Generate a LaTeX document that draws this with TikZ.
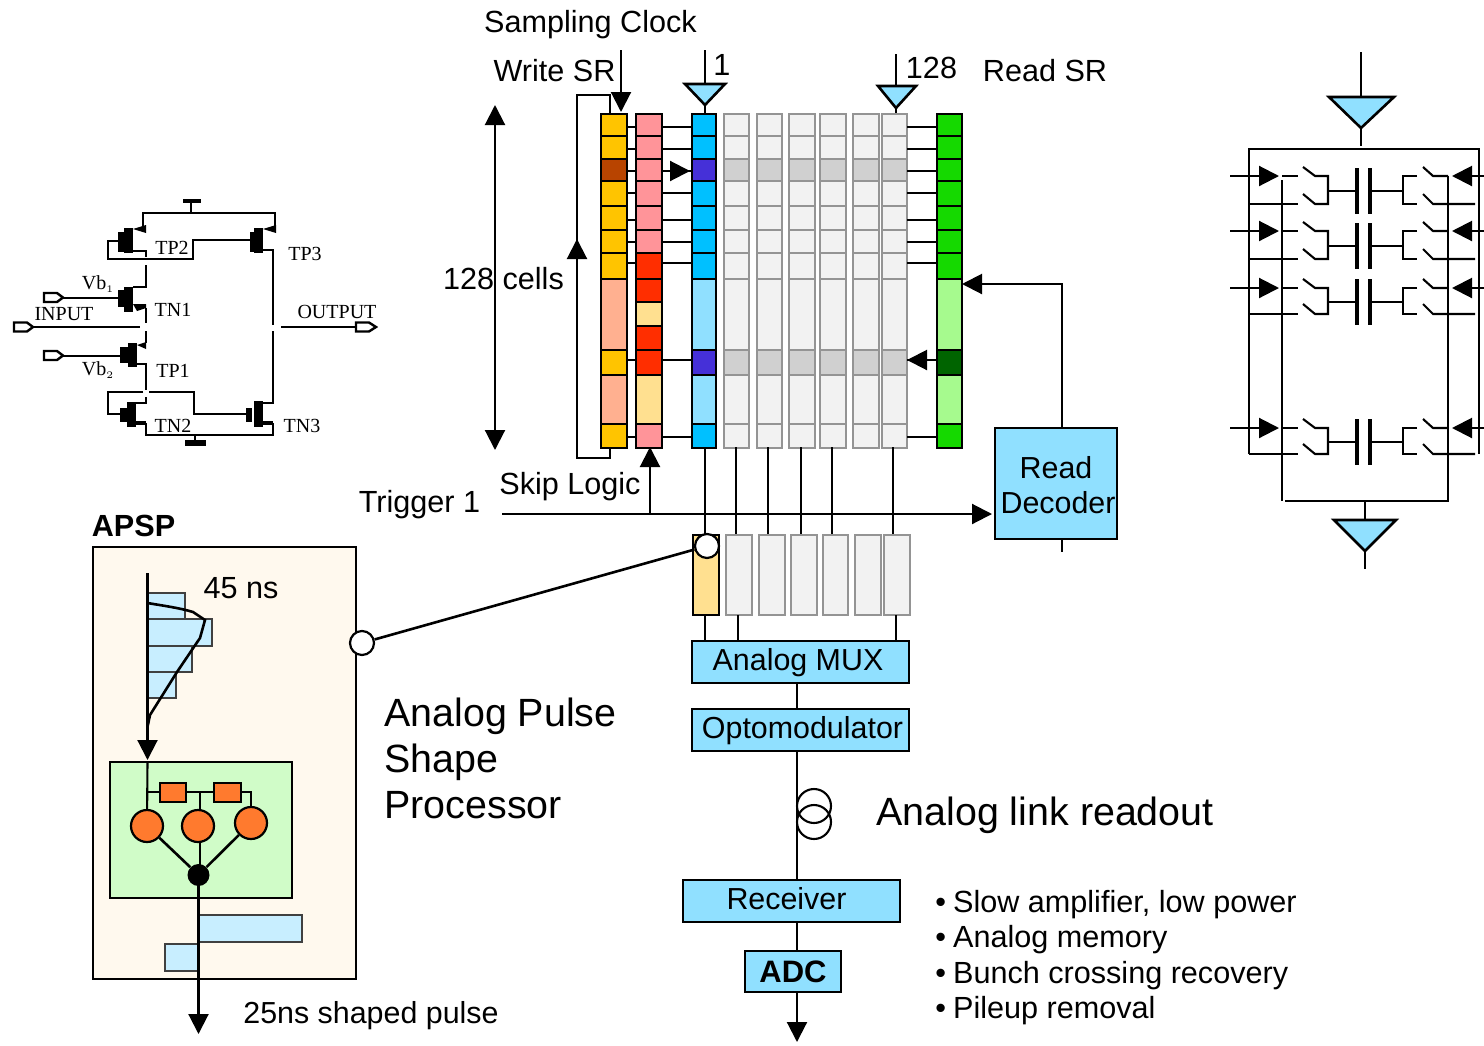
\documentclass[tikz,border=0pt]{standalone}
\usepackage{fontspec}
\setmainfont{Liberation Sans}
\newfontfamily\cmosfont{Liberation Serif}
\usetikzlibrary{arrows.meta}

\definecolor{sky}{HTML}{90E0FF}
\definecolor{cellblue}{HTML}{00C0FF}
\definecolor{cellviolet}{HTML}{4530D8}
\definecolor{cellgold}{HTML}{FFC400}
\definecolor{cellrust}{HTML}{B84400}
\definecolor{cellsalmon}{HTML}{FFB090}
\definecolor{cellpink}{HTML}{FF9499}
\definecolor{cellred}{HTML}{FF2E00}
\definecolor{cellcream}{HTML}{FFE090}
\definecolor{cellgreen}{HTML}{15D900}
\definecolor{celllime}{HTML}{A6FA8E}
\definecolor{celldark}{HTML}{006400}
\definecolor{cellpale}{HTML}{F2F2F2}
\definecolor{cellgrey}{HTML}{D0D0D0}
\definecolor{barblue}{HTML}{C8EEFF}
\definecolor{apspfill}{HTML}{FFF9EE}
\definecolor{netfill}{HTML}{D0FCC8}
\definecolor{neuron}{HTML}{FF7A2E}

\begin{document}
\begin{tikzpicture}[
  x=0.5pt, y=-0.5pt,
  line cap=butt, line join=miter,
  wire/.style={draw=black, line width=1.3pt},
  thin wire/.style={draw=black, line width=1.05pt},
  bigtip/.style={-{Triangle[length=10pt,width=10pt]}},
  cell/.style={draw=black, line width=1.15pt},
  palecell/.style={draw=black!42, line width=1.25pt},
  block/.style={draw=black, line width=1.3pt, fill=sky, inner sep=0pt, font=\fontsize{15.2}{18}\selectfont},
  chainblock/.style={block, minimum width=108.5pt, minimum height=21pt, text height=11pt, text depth=2.5pt},
  amp/.style={draw=black, line width=1.3pt, fill=sky},
  label/.style={font=\fontsize{15.3}{18}\selectfont, inner sep=0pt},
  biglabel/.style={font=\fontsize{19.7}{23}\selectfont, inner sep=0pt, anchor=base west},
  cmos/.style={font=\cmosfont\fontsize{10}{12}\selectfont, inner sep=0pt},
  pad/.style={draw=black, line width=1.2pt, fill=white},
  hub/.style={circle, draw=black, line width=1.1pt, fill=white, minimum size=12pt, inner sep=0pt},
  soma/.style={circle, draw=black, line width=1.1pt, fill=neuron, minimum size=16pt, inner sep=0pt},
  bar/.style={draw=black!75, line width=1pt, fill=barblue},
]
\useasboundingbox (0,0) rectangle (1484,1045);

\begin{scope}[yshift=-0.5pt]
% shift register and skip columns
\foreach \a/\b/\c in {113/135/cellgold,135/158/cellgold,158/180/cellrust,180/205/cellgold,205/229/cellgold,229/252/cellgold,252/278/cellgold,278/349/cellsalmon,349/374/cellgold,374/423/cellsalmon,423/447/cellgold}
  \draw[cell, fill=\c] (601,\a) rectangle (627,\b);
\foreach \a/\b/\c in {113/135/cellpink,135/158/cellpink,158/180/cellpink,180/205/cellpink,205/229/cellpink,229/252/cellpink,252/278/cellred,278/301/cellred,301/325/cellcream,325/349/cellred,349/374/cellred,374/423/cellcream,423/447/cellpink}
  \draw[cell, fill=\c] (636,\a) rectangle (662,\b);
\foreach \a/\b/\c in {113/135/cellblue,135/158/cellblue,158/180/cellviolet,180/205/cellblue,205/229/cellblue,229/252/cellblue,252/278/cellblue,278/349/sky,349/374/cellviolet,374/423/sky,423/447/cellblue}
  \draw[cell, fill=\c] (692,\a) rectangle (716,\b);
\foreach \a/\b/\c in {113/135/cellgreen,135/158/cellgreen,158/180/cellgreen,180/205/cellgreen,205/229/cellgreen,229/252/cellgreen,252/278/cellgreen,278/349/celllime,349/374/celldark,374/423/celllime,423/447/cellgreen}
  \draw[cell, fill=\c] (937,\a) rectangle (962,\b);

% memory columns
\foreach \l/\r in {724/749,757/782,789/815,820/846,853/879,882/907}{
  \foreach \a/\b/\c in {113/135/cellpale,135/158/cellpale,158/180/cellgrey,180/205/cellpale,205/229/cellpale,229/252/cellpale,252/278/cellpale,278/349/cellpale,349/374/cellgrey,374/423/cellpale,423/447/cellpale}
    \draw[palecell, fill=\c] (\l,\a) rectangle (\r,\b);
}
\end{scope}
\foreach \y in {127,149,171,193,220,242,263,360,437}{
  \draw[thin wire] (627,\y) -- (636,\y);
  \draw[thin wire] (662,\y) -- (692,\y);
  \draw[thin wire] (907,\y) -- (937,\y);
}

% amplifiers and control lines
\draw[thin wire] (705,50) -- (705,84);
\draw[amp] (685,84) -- (725,84) -- (705,105) -- cycle;
\draw[thin wire] (705,105) -- (705,113);
\draw[thin wire] (896,54) -- (896,86);
\draw[amp] (878,86) -- (916,86) -- (896,108) -- cycle;
\draw[thin wire] (896,108) -- (896,113);
\draw[thin wire, bigtip] (621,50) -- (621,112);
\draw[thin wire] (610,113) -- (610,95) -- (577,95) -- (577,458) -- (610,458) -- (610,448);
\draw[thin wire, bigtip] (577,270) -- (577,239);
\draw[thin wire, bigtip] (670,171) -- (690,171);
\draw[thin wire, bigtip] (937,360) -- (907,360);
\draw[thin wire, {Triangle[length=10pt,width=10pt]}-{Triangle[length=10pt,width=10pt]}] (495,105) -- (495,450);
\draw[thin wire, bigtip] (650,514) -- (650,447);
\draw[thin wire, bigtip] (502,514) -- (992,514);

\node[label] (sampling) at (590.5,25) {Sampling Clock};
\node[label] (writesr) at (554.5,71) {Write SR};
\node[label] (first) at (722,65) {1};
\node[label] (last) at (931.5,68) {128};
\node[label] (readsr) at (1045,71) {Read SR};
\node[label] (cells) at (503.5,279) {128 cells};
\node[label] (skip) at (570,487) {Skip Logic};
\node[label] (trigger) at (419.5,505) {Trigger 1};

% read decoder
\node[block, minimum width=61pt, minimum height=55.5pt, align=center] (decoder) at (1056,483.5) {\rule{0pt}{12.5pt}Read\\[-0.5pt]\hspace*{2pt}Decoder};
\coordinate (readin) at (962,284);
\draw[thin wire, bigtip] ([xshift=3pt]decoder.north) |- (readin);
\coordinate (decoderout) at (1062,552);
\draw[thin wire] ([xshift=3pt]decoder.south) -- (decoderout);

% output cells
\foreach \x in {705,736,768,801,832,893}
  \draw[thin wire] (\x,447) -- (\x,535);
\draw[cell, fill=cellcream] (693,535) rectangle (719,615);
\foreach \l/\r in {726/752,759/785,791/817,823/848,855/881,884/910}
  \draw[palecell, fill=cellpale] (\l,535) rectangle (\r,615);

% readout chain
\node[chainblock] (mux) at (800.5,662) {Analog MUX\hspace*{2.5pt}};
\node[chainblock] (opto) at (800.5,730) {\hspace*{2pt}Optomodulator};
\node[chainblock] (receiver) at (791.5,901) {Receiver\hspace*{5pt}};
\node[block, minimum width=48pt, minimum height=20.5pt, font=\fontsize{15.5}{18}\selectfont\bfseries] (adc) at (793,971.5) {ADC};
\foreach \x in {705,738,896}
  \draw[thin wire] (\x,615) -- (\x,641);
\coordinate (adcout) at (797,1042);
\draw[thin wire] ([xshift=-1.75pt]mux.south) -- ([xshift=-1.75pt]opto.north);
\draw[thin wire] ([xshift=-1.75pt]opto.south) -- ([xshift=2.75pt]receiver.north);
\draw[thin wire] ([xshift=2.75pt]receiver.south) -- ([xshift=2pt]adc.north);
\draw[thin wire, bigtip] ([xshift=2pt]adc.south) -- (adcout);
\draw[thin wire] (814,806) circle (17);
\draw[thin wire] (814,822) circle (17);
\node[biglabel] (linkreadout) at (876,825) {Analog link readout};
\foreach \y/\t in {905/{Slow amplifier, low power},940/{Analog memory},976/{Bunch crossing recovery},1011/{Pileup removal}}
  \node[label, anchor=west] at (935,\y) {\textbullet\hspace{3.5pt}\t};

% APSP
\node[label, font=\fontsize{15.3}{18}\selectfont\bfseries] (apsptitle) at (133.5,526) {APSP};
\draw[wire, fill=apspfill] (93,547) rectangle (356,979);
\node[hub] (apspin) at (362,643) {};
\node[hub] (celltap) at (707,546) {};
\draw[wire] (apspin) -- (celltap);
\node[label] (shaping) at (241,588) {45 ns};
\node[biglabel] (apsp1) at (384,726) {Analog Pulse};
\node[biglabel] (apsp2) at (384,772) {Shape};
\node[biglabel] (apsp3) at (384,818) {Processor};
\draw[bar] (147,593) rectangle (185,619);
\draw[bar] (147,619) rectangle (212,646);
\draw[bar] (147,646) rectangle (192,672);
\draw[bar] (147,672) rectangle (176,698);
\draw[thin wire, bigtip] (147.5,573) -- (147.5,760);
\draw[wire] (147.5,603) .. controls (165,606) and (180,608) .. (193,612) -- (205,620) -- (200,638) -- (177,672) -- (150,715) -- (147.5,727);
\draw[wire, fill=netfill] (110,762) rectangle (292,898);
\node[soma] (soma1) at (147,826) {};
\node[soma] (soma2) at (198,826) {};
\node[soma] (soma3) at (251,823) {};
\node[circle, fill=black, minimum size=11pt, inner sep=0pt] (sum) at (198.5,875) {};
\draw[thin wire] (147.5,762) -- (soma1);
\draw[thin wire] (147.5,792) -- (251,792) -- (soma3);
\draw[thin wire] (200,792) -- (200,810);
\draw[wire] (soma1) -- (sum);
\draw[thin wire] (200,842) -- (200,870);
\draw[wire] (soma3) -- (sum);
\draw[thin wire, fill=neuron] (160,783) rectangle (186,802);
\draw[thin wire, fill=neuron] (214,783) rectangle (241,802);
\draw[bar] (198,915) rectangle (302,942);
\draw[bar] (165,944) rectangle (198,971);
\coordinate (apspout) at (198.5,1034);
\draw[thin wire, bigtip] (sum) -- (apspout);
\node[label, anchor=west, font=\fontsize{15.2}{18}\selectfont] (shaped) at (243,1016) {25ns shaped pulse};

% current mode amplifier
\begin{scope}[line width=1.3pt]
\draw (143,228) -- (143,213) -- (275,213) -- (275,228);
\draw (191,213) -- (191,201);
\fill (183,198.5) rectangle (201,202.5);
\draw (133,251) -- (146,251) -- (146,257);
\draw (120,241) -- (108,241) -- (108,259) -- (193,259) -- (193,240) -- (250,240);
\fill (118,232) rectangle (124,252);
\fill (124,228) rectangle (133,253);
\fill (133,229) -- (146,225) -- (146,233) -- cycle;
\fill (250,232) rectangle (254,252);
\fill (254,228) rectangle (263,253);
\fill (263,229) -- (276,225) -- (276,233) -- cycle;
\draw (263,250) -- (273,250) -- (273,325);
\draw (273,331) -- (273,403) -- (263,403);
\draw (281,327) -- (356,327);
\draw (146,265) -- (146,287) -- (133,287);
\fill (118,290) rectangle (124,307);
\fill (124,287) rectangle (133,312);
\fill (133,304) -- (146,304) -- (146,308) -- (137,311) -- cycle;
\draw (146,308) -- (146,323);
\draw (63,298) -- (118,298);
\draw (33,327) -- (140,327);
\draw (146,331) -- (146,343);
\fill (137,345) -- (146,342) -- (146,349) -- cycle;
\fill (120,347) rectangle (128,363);
\fill (128,343) rectangle (137,367);
\draw (63,356) -- (120,356);
\draw (137,364) -- (146,364) -- (146,390);
\draw (143,392) -- (108,392) -- (108,414) -- (120,414);
\draw (149,392) -- (194,392) -- (194,414) -- (246,414);
\draw (136,403) -- (146,403) -- (146,397);
\fill (120,408) rectangle (127,422);
\fill (127,402) rectangle (136,427);
\fill (136,421) rectangle (146,425);
\draw (146,423) -- (146,435) -- (273,435) -- (273,423);
\fill (246,408) rectangle (252,422);
\fill (254,401) rectangle (263,427);
\fill (263,421) rectangle (273,425);
\draw (195,435) -- (195,440);
\fill (185,440) rectangle (206,446);
\end{scope}
\draw[pad] (44,293) -- (57,293) -- (63,297.5) -- (57,302) -- (44,302) -- cycle;
\draw[pad] (44,351) -- (57,351) -- (63,355.5) -- (57,360) -- (44,360) -- cycle;
\draw[pad] (14,322.5) -- (27,322.5) -- (33,327) -- (27,331.5) -- (14,331.5) -- cycle;
\draw[pad] (356,322.5) -- (369,322.5) -- (376,327) -- (369,331.5) -- (356,331.5) -- cycle;
\node[cmos] (vb1) at (98,284) {Vb$_{\scriptscriptstyle 1}$};
\node[cmos] (vb2) at (98,370) {Vb$_{\scriptscriptstyle 2}$};
\node[cmos] (input) at (64,314) {INPUT};
\node[cmos] (output) at (337,312) {OUTPUT};
\node[cmos] (tp2) at (172,248) {TP2};
\node[cmos] (tp3) at (305,254) {TP3};
\node[cmos] (tn1) at (173,310) {TN1};
\node[cmos] (tp1) at (173,371) {TP1};
\node[cmos] (tn2) at (173,426) {TN2};
\node[cmos] (tn3) at (302,426) {TN3};

% memory cell detail
\draw[thin wire] (1361,52) -- (1361,97);
\draw[amp] (1329,97) -- (1394,97) -- (1361,128) -- cycle;
\draw[thin wire] (1361,128) -- (1361,146);
\draw[thin wire] (1249,454) -- (1249,149) -- (1479,149) -- (1479,454);
\draw[wire] (1282,180) -- (1282,501);
\draw[wire] (1285,501) -- (1448,501) -- (1448,176);
\draw[thin wire] (1365,501) -- (1365,520);
\draw[amp] (1334,520) -- (1396,520) -- (1365,551) -- cycle;
\draw[thin wire] (1365,551) -- (1365,569);
\foreach \y/\d in {176/28,231/28,288/26,428/26}{
  \pgfmathsetmacro{\low}{\y+\d}
  \pgfmathsetmacro{\mid}{\y+\d/2+1}
  \draw[thin wire, bigtip] (1230,\y) -- (1279,\y);
  \draw[thin wire, bigtip] (1484,\y) -- (1452,\y);
  \draw[thin wire] (1282,\y) -- (1298,\y);
  \draw[thin wire] (1303,\y-9) -- (1315,\y) -- (1328,\y) -- (1328,\low) -- (1315,\low) -- (1303,\low-10);
  \draw[thin wire] (1249,\low) -- (1298,\low);
  \draw[thin wire] (1328,\mid) -- (1357,\mid);
  \draw[thin wire] (1370,\mid) -- (1403,\mid);
  \draw[line width=2.2pt] (1357,\mid-23) -- (1357,\mid+23);
  \draw[line width=2.2pt] (1370,\mid-23) -- (1370,\mid+23);
  \draw[thin wire] (1417,\y) -- (1403,\y) -- (1403,\low) -- (1417,\low);
  \draw[thin wire] (1423,\y-9) -- (1433,\y) -- (1448,\y);
  \draw[thin wire] (1423,\low-10) -- (1433,\low) -- (1475,\low);
}
\end{tikzpicture}
\end{document}
